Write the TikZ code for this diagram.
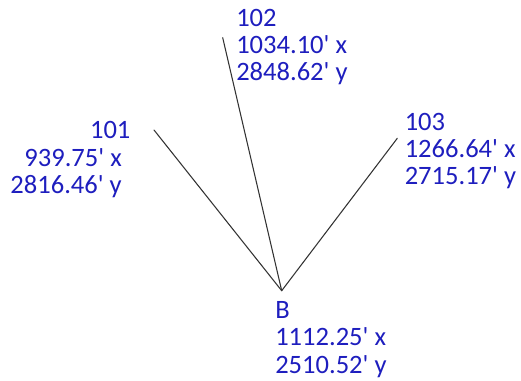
\documentclass[tikz,border=0pt]{standalone}
\usepackage{fontspec}
\setmainfont{Carlito}[Ligatures=TeXOff]
\usepackage{tikz}
\usepackage{xcolor}
\usetikzlibrary{positioning}
\definecolor{surveyblue}{RGB}{30,30,190}
\tikzset{
  every picture/.append style={line cap=round,line join=round},
  survey line/.style={draw={black!80},line width=0.8pt},
  survey label/.style={text=surveyblue,inner sep=0pt,align=left,
    font={\fontsize{19.9pt}{20.6pt}\selectfont}}
}
\begin{document}
\begin{tikzpicture}[x=0.75pt, y=-0.75pt]
  \useasboundingbox (0,0) rectangle (521,381);
  \coordinate (B) at (281.7,290.7);
  \coordinate (p101) at (154,130);
  \coordinate (p102) at (222.7,37.7);
  \coordinate (p103) at (397.3,138.3);
  \draw[survey line] (B) -- (p101);
  \draw[survey line] (B) -- (p102);
  \draw[survey line] (B) -- (p103);
  \node[survey label, align=right, anchor=base east] (n101) at (122,193.5)
    {101\hspace*{-6.5pt}\\939.75' x\\2816.46' y};
  \node[survey label, anchor=base west] (n102) at (236,81)
    {102\\1034.10' x\\2848.62' y};
  \node[survey label, anchor=base west] (n103) at (404.5,185)
    {103\\1266.64' x\\2715.17' y};
  \node[survey label, anchor=base west] (nB) at (275,373.3)
    {B\\1112.25' x\\2510.52' y};
\end{tikzpicture}
\end{document}
